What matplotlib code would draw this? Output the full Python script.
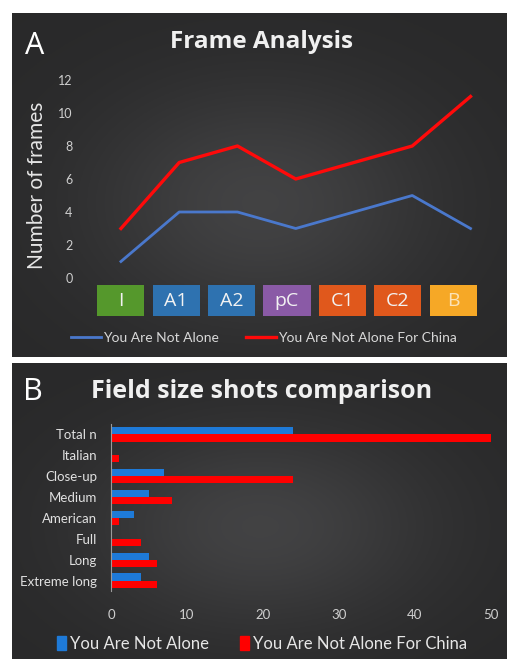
import numpy as np
import matplotlib
matplotlib.use("Agg")
import matplotlib.pyplot as plt
from matplotlib.lines import Line2D
from matplotlib.patches import Patch

# ---------------- data ----------------
stages = ["I", "A1", "A2", "pC", "C1", "C2", "B"]
stage_colors = ["#55982c", "#2e72b0", "#2e72b0", "#8a5aa6", "#e0581c", "#e0581c", "#f6a826"]
frames_alone = [1, 4, 4, 3, 4, 5, 3]
frames_china = [3, 7, 8, 6, 7, 8, 11]
y_ticks_a = [0, 2, 4, 6, 8, 10, 12]

shot_types = ["Total n", "Italian", "Close-up", "Medium", "American", "Full", "Long", "Extreme long"]
shots_alone = [24, 0, 7, 5, 3, 0, 5, 4]
shots_china = [50, 1, 24, 8, 1, 4, 6, 6]
x_ticks_b = [0, 10, 20, 30, 40, 50]

series_names = ["You Are Not Alone", "You Are Not Alone For China"]

# ---------------- layout helpers ----------------
W, H = 507, 659
def rect(x0, y0, x1, y1):
    return [x0 / W, 1 - y1 / H, (x1 - x0) / W, (y1 - y0) / H]

FONT = ["Lato", "DejaVu Sans"]
TFONT = ["Open Sans", "DejaVu Sans"]
plt.rcParams["font.family"] = FONT

fig = plt.figure(figsize=(W / 100, H / 100), dpi=100, facecolor="white")

def background(r):
    bg = fig.add_axes(r)
    ny, nx = 200, 300
    yy, xx = np.mgrid[0:ny, 0:nx]
    dx = (xx - nx * 0.5) / nx
    dy = (yy - ny * 0.55) / ny
    v = 0.16 + 0.10 * np.exp(-(dx ** 2 + dy ** 2) / 0.12)
    img = np.dstack([v, v, v * 1.02])
    bg.imshow(np.clip(img, 0, 1), aspect="auto", extent=[0, 1, 0, 1])
    bg.set_axis_off()
    return bg

background(rect(12, 13, 507, 357))
background(rect(12, 363, 507, 659))

tick_col = "#cfcfcf"

# ---------------- Panel A ----------------
axA = fig.add_axes(rect(85, 80, 500, 278))
axA.set_facecolor("none")
x = np.arange(len(stages))
axA.plot(x, frames_alone, color="#4a78cc", lw=2.0, solid_joinstyle="round", clip_on=False)
axA.plot(x, frames_china, color="#ff0a0a", lw=2.4, solid_joinstyle="round", clip_on=False)
axA.set_xlim(-0.617, 6.506)
axA.set_ylim(0, 12)
axA.set_yticks(y_ticks_a)
axA.set_yticklabels([str(t) for t in y_ticks_a], color=tick_col, fontsize=9)
axA.tick_params(axis="y", length=0, pad=9)
axA.set_xticks([])
for s in axA.spines.values():
    s.set_visible(False)

fig.text(37 / W, 1 - 185 / H, "Number of frames", rotation=90, color="#e6e6e6",
         fontsize=15, ha="center", va="center", family=FONT)
fig.text(35 / W, 1 - 46 / H, "A", color="white", fontsize=22, ha="center", va="center",
         family=["Open Sans", "DejaVu Sans"])
fig.text(262 / W, 1 - 42 / H, "Frame Analysis", color="#f0f0f0", fontsize=17.5,
         fontweight="bold", ha="center", va="center", family=TFONT)

# stage boxes
axS = fig.add_axes(rect(93, 285, 481, 316))
axS.set_facecolor("none")
axS.bar(np.arange(len(stages)), [1] * len(stages), width=0.85, color=stage_colors)
axS.set_xlim(-0.5, 6.5)
axS.set_ylim(0, 1)
axS.set_axis_off()
for i, lab in enumerate(stages):
    axS.text(i, 0.5, lab, color="#f2f2f2" if lab != "B" else "#fbe3b8", fontsize=14,
             ha="center", va="center", family=TFONT)

handlesA = [Line2D([], [], color="#4a78cc", lw=2.0), Line2D([], [], color="#ff0a0a", lw=2.4)]
legA = fig.legend(handlesA, series_names, loc="center", bbox_to_anchor=(264 / W, 1 - 338 / H),
                  ncol=2, frameon=False, handlelength=2.2, handletextpad=0.15,
                  columnspacing=1.9, prop={"family": FONT, "size": 10})
for t in legA.get_texts():
    t.set_color("#d8d8d8")

# ---------------- Panel B ----------------
axB = fig.add_axes(rect(111, 424, 491, 591))
axB.set_facecolor("none")
yb = np.arange(len(shot_types))
h = 0.34
axB.barh(yb - h / 2, shots_alone, height=h, color="#1e7ad8")
axB.barh(yb + h / 2, shots_china, height=h, color="#ff0000")
axB.set_ylim(len(shot_types) - 0.5, -0.5)
axB.set_xlim(0, 50)
axB.set_yticks(yb)
axB.set_yticklabels(shot_types, color="#e0e0e0", fontsize=9.5)
axB.set_xticks(x_ticks_b)
axB.set_xticklabels([str(t) for t in x_ticks_b], color=tick_col, fontsize=9.5)
axB.tick_params(axis="y", length=0, pad=10)
axB.tick_params(axis="x", length=0, pad=13)
for k, s in axB.spines.items():
    s.set_visible(k == "left")
axB.spines["left"].set_color("#9a9a9a")
axB.spines["left"].set_linewidth(0.8)

fig.text(33 / W, 1 - 392 / H, "B", color="white", fontsize=22, ha="center", va="center",
         family=["Open Sans", "DejaVu Sans"])
fig.text(262 / W, 1 - 392 / H, "Field size shots comparison", color="#f0f0f0", fontsize=18,
         fontweight="bold", ha="center", va="center", family=TFONT)

handlesB = [Patch(color="#1e7ad8"), Patch(color="#ff0000")]
legB = fig.legend(handlesB, series_names, loc="center", bbox_to_anchor=(262 / W, 1 - 644 / H),
                  ncol=2, frameon=False, handlelength=0.55, handleheight=0.9, handletextpad=0.2,
                  columnspacing=1.9, prop={"family": FONT, "size": 12})
for t in legB.get_texts():
    t.set_color("#e6e6e6")

fig.savefig("out.png", dpi=100, facecolor="white")
